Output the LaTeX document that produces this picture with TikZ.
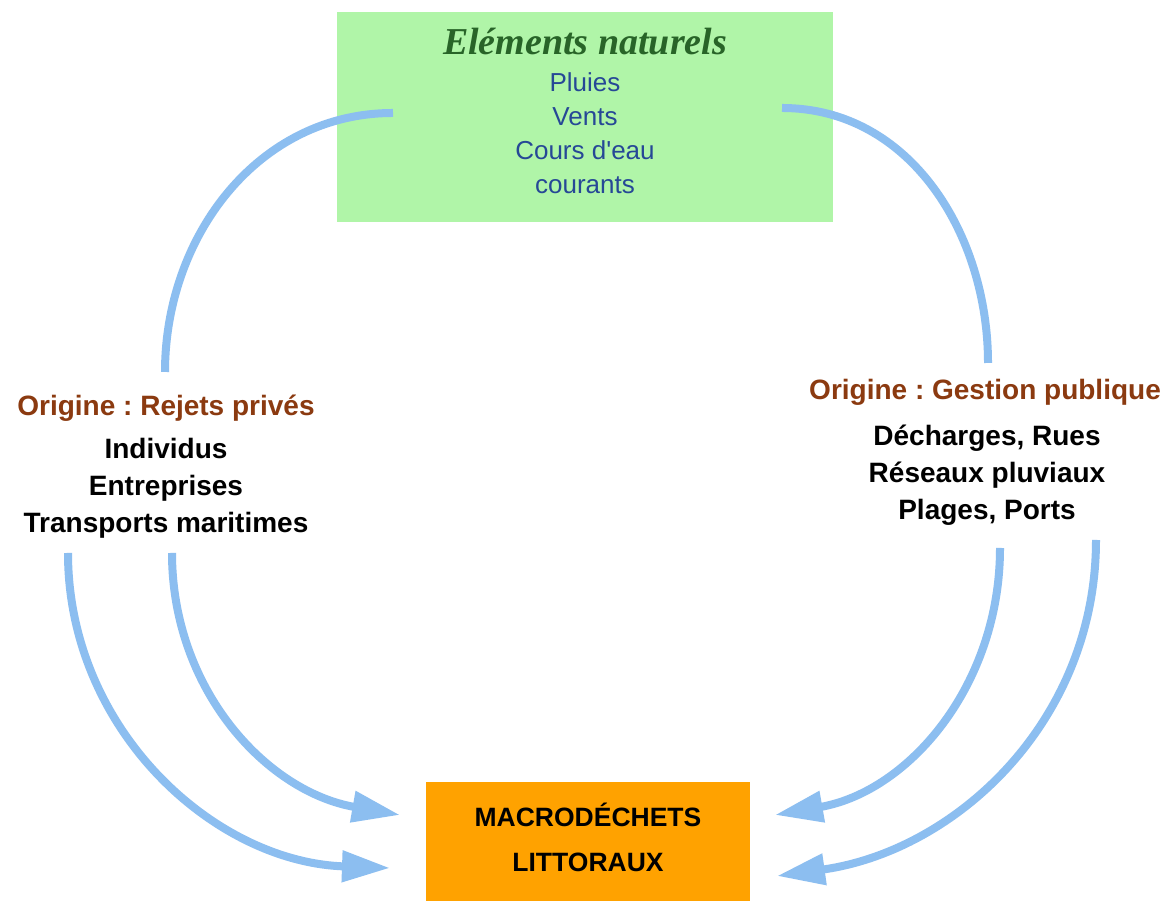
\documentclass[tikz,border=0pt]{standalone}
\usepackage{fontspec}
\setmainfont{Liberation Sans}
\newfontfamily\titlefont{Liberation Serif}
\usetikzlibrary{arrows.meta}
\definecolor{boxgreen}{RGB}{176,245,168}
\definecolor{boxorange}{RGB}{255,162,0}
\definecolor{flowblue}{RGB}{140,190,240}
\definecolor{origbrown}{RGB}{139,58,16}
\definecolor{itemblue}{RGB}{38,72,150}
\definecolor{titlegreen}{RGB}{40,100,40}
\frenchspacing
\begin{document}
\begin{tikzpicture}[x=1pt,y=1pt,
  flow/.style={draw=flowblue,line width=8pt},
  flowtip/.style={flow,-{Triangle[length=48pt,width=30pt]}},
  origin/.style={font=\bfseries\fontsize{28}{28}\selectfont,text=origbrown,inner sep=0pt},
  items/.style={font=\bfseries\fontsize{28}{37}\selectfont,align=center,inner sep=0pt},
  natitems/.style={font=\fontsize{26}{34}\selectfont,text=itemblue,align=center,inner sep=0pt}]
\useasboundingbox (0,0) rectangle (1175,901);
\fill[white] (0,0) rectangle (1175,901);

% boxes
\node (nat) [fill=boxgreen,minimum width=496pt,minimum height=210pt,inner sep=0pt] at (585,784) {};
\node (natT) [font=\titlefont\bfseries\itshape\fontsize{38}{38}\selectfont,text=titlegreen] at (585,859) {Eléments naturels};
\node (natL) [natitems] at (585,768) {Pluies\\Vents\\Cours d\textquotesingle eau\\courants};

\node (mac) [fill=boxorange,minimum width=324pt,minimum height=119pt,inner sep=0pt] at (588,59.5) {};
\node (macT) [font=\bfseries\fontsize{26.5}{45}\selectfont,align=center,inner sep=0pt] at (588,63.5) {MACRODÉCHETS\\LITTORAUX};

% sources
\node (privT) [origin] at (166,493) {Origine : Rejets privés};
\node (privL) [items] at (166,412.5) {Individus\\Entreprises\\Transports maritimes};
\node (pubT) [origin] at (985,509) {Origine : Gestion publique};
\node (pubL) [items] at (987,426) {Décharges, Rues\\Réseaux pluviaux\\Plages, Ports};

% connector ends
\coordinate (nL) at (393,788);
\coordinate (pL) at (165,529);
\coordinate (nR) at (782,793);
\coordinate (pR) at (988,538);
\coordinate (pLa) at (172,348);
\coordinate (pLb) at (68,348);
\coordinate (pRa) at (1000,353);
\coordinate (pRb) at (1096,361);
\coordinate (mLa) at (400,86);
\coordinate (mLb) at (390,33);
\coordinate (mRa) at (775,86);
\coordinate (mRb) at (777,25);

% flows
\draw[flow] (nL) to[out=180,in=90] (pL);
\draw[flow] (nR) to[out=0,in=90] (pR);
\draw[flowtip] (pLa) to[out=-90,in=170] (mLa);
\draw[flowtip] (pLb) to[out=-90,in=178] (mLb);
\draw[flowtip] (pRa) to[out=-90,in=10] (mRa);
\draw[flowtip] (pRb) to[out=-90,in=8] (mRb);
\end{tikzpicture}
\end{document}
